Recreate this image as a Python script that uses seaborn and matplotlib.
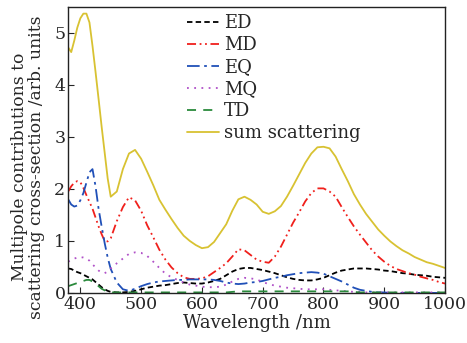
import matplotlib.pyplot as plt
import seaborn as sns
import numpy as np
import pandas as pd

# wavelength grid (nm): 5 nm steps up to 450, then 10 nm
wl = [380, 385, 390, 395, 400, 405, 410, 415, 420, 425, 430, 435, 440, 445, 450,
      460, 470, 480, 490, 500, 510, 520, 530, 540, 550, 560, 570, 580, 590, 600,
      610, 620, 630, 640, 650, 660, 670, 680, 690, 700, 710, 720, 730, 740, 750,
      760, 770, 780, 790, 800, 810, 820, 830, 840, 850, 860, 870, 880, 890, 900,
      910, 920, 930, 940, 950, 960, 970, 980, 990, 1000]

ed = [0.47, 0.46, 0.43, 0.40, 0.38, 0.35, 0.32, 0.29, 0.26, 0.21, 0.16, 0.11, 0.07, 0.04, 0.02,
      0.01, 0.01, 0.02, 0.04, 0.07, 0.10, 0.12, 0.14, 0.15, 0.17, 0.19, 0.20, 0.19, 0.18, 0.18,
      0.20, 0.23, 0.27, 0.34, 0.41, 0.46, 0.48, 0.48, 0.46, 0.44, 0.41, 0.38, 0.34, 0.30, 0.27,
      0.25, 0.24, 0.24, 0.26, 0.29, 0.34, 0.39, 0.43, 0.45, 0.47, 0.47, 0.47, 0.46, 0.45, 0.43,
      0.42, 0.40, 0.38, 0.37, 0.35, 0.34, 0.33, 0.31, 0.30, 0.29]

md = [1.95, 2.05, 2.12, 2.15, 2.13, 2.02, 1.88, 1.75, 1.62, 1.45, 1.28, 1.13, 1.00, 0.99, 1.05,
      1.38, 1.65, 1.84, 1.78, 1.58, 1.30, 1.07, 0.83, 0.64, 0.49, 0.38, 0.30, 0.27, 0.27, 0.28,
      0.32, 0.40, 0.48, 0.57, 0.70, 0.84, 0.82, 0.73, 0.64, 0.60, 0.58, 0.70, 0.89, 1.12, 1.35,
      1.55, 1.76, 1.92, 2.01, 2.01, 1.95, 1.85, 1.65, 1.46, 1.28, 1.12, 0.97, 0.82, 0.70, 0.60,
      0.52, 0.46, 0.42, 0.38, 0.35, 0.31, 0.28, 0.25, 0.21, 0.18]

eq = [1.80, 1.70, 1.66, 1.68, 1.78, 1.92, 2.12, 2.32, 2.38, 2.05, 1.62, 1.28, 0.96, 0.68, 0.46,
      0.20, 0.07, 0.04, 0.08, 0.13, 0.17, 0.20, 0.22, 0.23, 0.24, 0.25, 0.25, 0.26, 0.26, 0.26,
      0.26, 0.25, 0.23, 0.20, 0.18, 0.17, 0.18, 0.20, 0.21, 0.23, 0.26, 0.29, 0.31, 0.34, 0.36,
      0.38, 0.39, 0.40, 0.39, 0.37, 0.32, 0.27, 0.22, 0.16, 0.10, 0.06, 0.04, 0.02, 0.01, 0.01,
      0.00, 0.00, 0.00, 0.00, 0.00, 0.00, 0.00, 0.00, 0.00, 0.00]

mq = [0.60, 0.63, 0.66, 0.68, 0.69, 0.68, 0.66, 0.62, 0.55, 0.49, 0.43, 0.39, 0.38, 0.41, 0.47,
      0.57, 0.66, 0.75, 0.78, 0.77, 0.71, 0.60, 0.48, 0.37, 0.30, 0.25, 0.20, 0.16, 0.14, 0.12,
      0.11, 0.11, 0.12, 0.16, 0.22, 0.27, 0.29, 0.28, 0.26, 0.21, 0.17, 0.14, 0.12, 0.10, 0.09,
      0.08, 0.07, 0.07, 0.07, 0.07, 0.06, 0.05, 0.04, 0.03, 0.02, 0.02, 0.01, 0.01, 0.01, 0.01,
      0.01, 0.01, 0.01, 0.01, 0.01, 0.01, 0.01, 0.01, 0.01, 0.01]

td = [0.13, 0.15, 0.17, 0.19, 0.21, 0.23, 0.25, 0.25, 0.22, 0.18, 0.13, 0.08, 0.05, 0.02, 0.01,
      0.01, 0.01, 0.01, 0.01, 0.01, 0.01, 0.01, 0.01, 0.01, 0.01, 0.01, 0.01, 0.01, 0.01, 0.01,
      0.01, 0.01, 0.01, 0.01, 0.02, 0.03, 0.03, 0.03, 0.03, 0.03, 0.03, 0.03, 0.03, 0.03, 0.03,
      0.03, 0.03, 0.03, 0.03, 0.03, 0.03, 0.03, 0.03, 0.03, 0.02, 0.01, 0.01, 0.01, 0.01, 0.01,
      0.01, 0.01, 0.01, 0.01, 0.01, 0.01, 0.01, 0.01, 0.01, 0.01]

total = [4.72, 4.63, 4.85, 5.10, 5.28, 5.37, 5.37, 5.20, 4.75, 4.25, 3.73, 3.20, 2.70, 2.20, 1.85,
         1.95, 2.38, 2.68, 2.75, 2.58, 2.33, 2.07, 1.79, 1.60, 1.42, 1.25, 1.10, 1.00, 0.92, 0.86,
         0.88, 0.98, 1.15, 1.32, 1.58, 1.80, 1.85, 1.79, 1.70, 1.56, 1.52, 1.57, 1.67, 1.85, 2.06,
         2.28, 2.50, 2.68, 2.80, 2.81, 2.78, 2.62, 2.38, 2.15, 1.90, 1.70, 1.52, 1.37, 1.22, 1.10,
         0.99, 0.90, 0.82, 0.76, 0.69, 0.64, 0.59, 0.56, 0.52, 0.48]

labels = ['ED', 'MD', 'EQ', 'MQ', 'TD', 'sum scattering']
series = [ed, md, eq, mq, td, total]
colors = ['black', '#f0201c', '#2050b8', '#b050c8', '#2a8a3c', '#d8c232']
styles = [(0, (3, 1.8)), (0, (5, 2, 1, 2, 1, 2)), (0, (7, 2.5, 1.5, 2.5)),
          (0, (1, 3)), (0, (5, 4)), '-']

sns.set_style('ticks')
plt.rcParams['font.family'] = ['DejaVu Serif']
plt.rcParams['mathtext.fontset'] = 'dejavuserif'

fig = plt.figure(figsize=(4.67, 3.43), dpi=100)
ax = fig.add_axes([0.146, 0.146, 0.807, 0.834])

for lab, vals, c, ls in zip(labels, series, colors, styles):
    sns.lineplot(x=wl, y=vals, ax=ax, color=c, linestyle=ls, linewidth=1.3, label=lab)

ax.set_xlim(380, 1000)
ax.set_ylim(0, 5.5)
ax.set_xticks([400, 500, 600, 700, 800, 900, 1000])
ax.set_yticks([0, 1, 2, 3, 4, 5])
ax.tick_params(direction='in', length=4, labelsize=12.5, pad=2)
for s in ax.spines.values():
    s.set_linewidth(1.0)
    s.set_color('#222222')

ax.set_xlabel('Wavelength /nm', fontsize=13, labelpad=1)
ax.set_ylabel('Multipole contributions to\nscattering cross-section /arb. units',
              fontsize=12.3, linespacing=0.95)
ax.yaxis.set_label_coords(-0.062, 0.44)

ax.legend(loc='upper left', bbox_to_anchor=(0.373, 0.995), bbox_transform=fig.transFigure,
          frameon=False, fontsize=13, handlelength=1.8, handletextpad=0.25,
          labelspacing=0.22, borderpad=0.2)

fig.savefig('out.png', dpi=100)
